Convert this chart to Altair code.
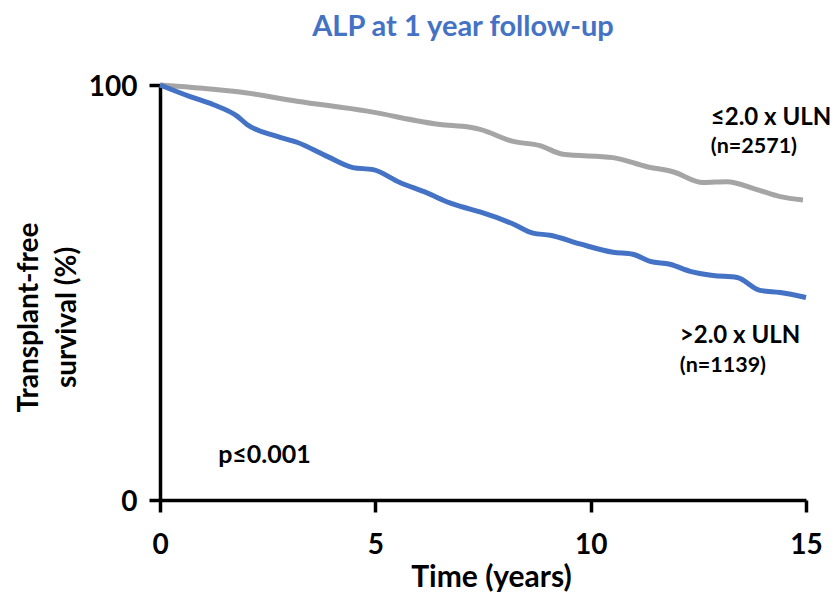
import altair as alt
import pandas as pd

# Kaplan-Meier style curves
low_t = [0, 1.0, 1.86, 3.18, 4.81, 6.5, 7.2, 7.43, 8.2, 8.82, 9.36, 10.52, 11.31, 11.91, 12.61, 13.16, 13.86, 14.4, 14.93]
low_s = [100, 99.2, 98.3, 96.1, 93.7, 90.5, 89.8, 89.3, 86.4, 85.4, 83.3, 82.5, 80.3, 79.1, 76.5, 76.7, 74.8, 73.1, 72.3]

high_t = [0, 0.70, 1.23, 1.79, 2.02, 2.72, 3.18, 3.88, 4.48, 4.95, 5.57, 6.2, 6.73, 7.03, 7.43, 8.2, 8.66, 9.06, 9.75, 10.52, 10.98, 11.38, 11.84, 12.31, 12.84, 13.4, 13.93, 14.4, 15.0]
high_s = [100, 97.2, 95.3, 92.5, 90.5, 87.6, 86.2, 82.8, 80.1, 79.6, 76.5, 74.0, 71.6, 70.6, 69.4, 66.5, 64.3, 63.8, 61.7, 59.7, 59.2, 57.5, 56.8, 55.1, 54.1, 53.6, 50.5, 50.0, 48.8]

groups = ["≤2.0 x ULN", ">2.0 x ULN"]
colors = ["#A5A5A5", "#4472C4"]

x_ticks = [0, 5, 10, 15]
y_ticks = [0, 100]

# annotations
ann_text = ["≤2.0 x ULN", "(n=2571)", ">2.0 x ULN", "(n=1139)", "p≤0.001"]
ann_x = [12.79, 12.79, 12.07, 12.07, 1.35]
ann_y = [90.3, 83.5, 37.9, 30.8, 8.9]
ann_size = [24, 21.5, 24, 21.5, 25]

FONT = "Lato"

rows = []
for t, s in zip(low_t, low_s):
    rows.append({"t": t, "s": s, "g": groups[0]})
for t, s in zip(high_t, high_s):
    rows.append({"t": t, "s": s, "g": groups[1]})
df = pd.DataFrame(rows)

ann = pd.DataFrame({"x": ann_x, "y": ann_y, "text": ann_text, "size": ann_size})

xscale = alt.Scale(domain=[0, 15], nice=False, zero=False)
yscale = alt.Scale(domain=[0, 100], nice=False)

lines = alt.Chart(df).mark_line(strokeWidth=5, interpolate="monotone", clip=False).encode(
    x=alt.X("t:Q", scale=xscale,
            axis=alt.Axis(values=x_ticks, title="Time (years)", grid=False,
                          domainColor="black", domainWidth=3.5, tickColor="black",
                          tickWidth=3.5, tickSize=12, labelFont=FONT, labelFontSize=28,
                          labelFontWeight="bold", labelColor="black", labelPadding=19,
                          labelFlush=False,
                          titleFont=FONT, titleFontSize=30, titleFontWeight="bold",
                          titleColor="black", titleX=331, titleY=86,
                          titleBaseline="alphabetic")),
    y=alt.Y("s:Q", scale=yscale,
            axis=alt.Axis(values=y_ticks, title=["Transplant-free", "survival (%)"],
                          grid=False, domainColor="black", domainWidth=3.5,
                          tickColor="black", tickWidth=3.5, tickSize=11,
                          labelFont=FONT, labelFontSize=28, labelFontWeight="bold",
                          labelColor="black", labelPadding=12, labelFlush=False,
                          labelOffset=2,
                          titleFont=FONT, titleFontSize=28, titleFontWeight="bold",
                          titleColor="black", titleAngle=-90, titleX=-131,
                          titleY=232, titleBaseline="middle", titleAlign="center",
                          titleLineHeight=38)),
    color=alt.Color("g:N", scale=alt.Scale(domain=groups, range=colors), legend=None),
    order=alt.Order("t:Q"),
)

texts = alt.Chart(ann).mark_text(align="left", baseline="alphabetic", font=FONT,
                                 fontWeight="bold", color="black").encode(
    x=alt.X("x:Q", scale=xscale),
    y=alt.Y("y:Q", scale=yscale),
    text="text:N",
    size=alt.Size("size:Q", scale=None, legend=None),
)

chart = alt.layer(lines, texts).properties(
    width=646, height=415,
    title=alt.TitleParams("ALP at 1 year follow-up", font=FONT, fontSize=29,
                          fontWeight="bold", color="#4472C4", anchor="middle",
                          dx=-20, offset=31),
    autosize=alt.AutoSizeParams(type="none"),
    padding={"left": 152, "top": 77, "right": 24, "bottom": 100},
).configure_view(stroke=None)

chart.save("out.html", embed_options={"renderer": "svg", "actions": False})
